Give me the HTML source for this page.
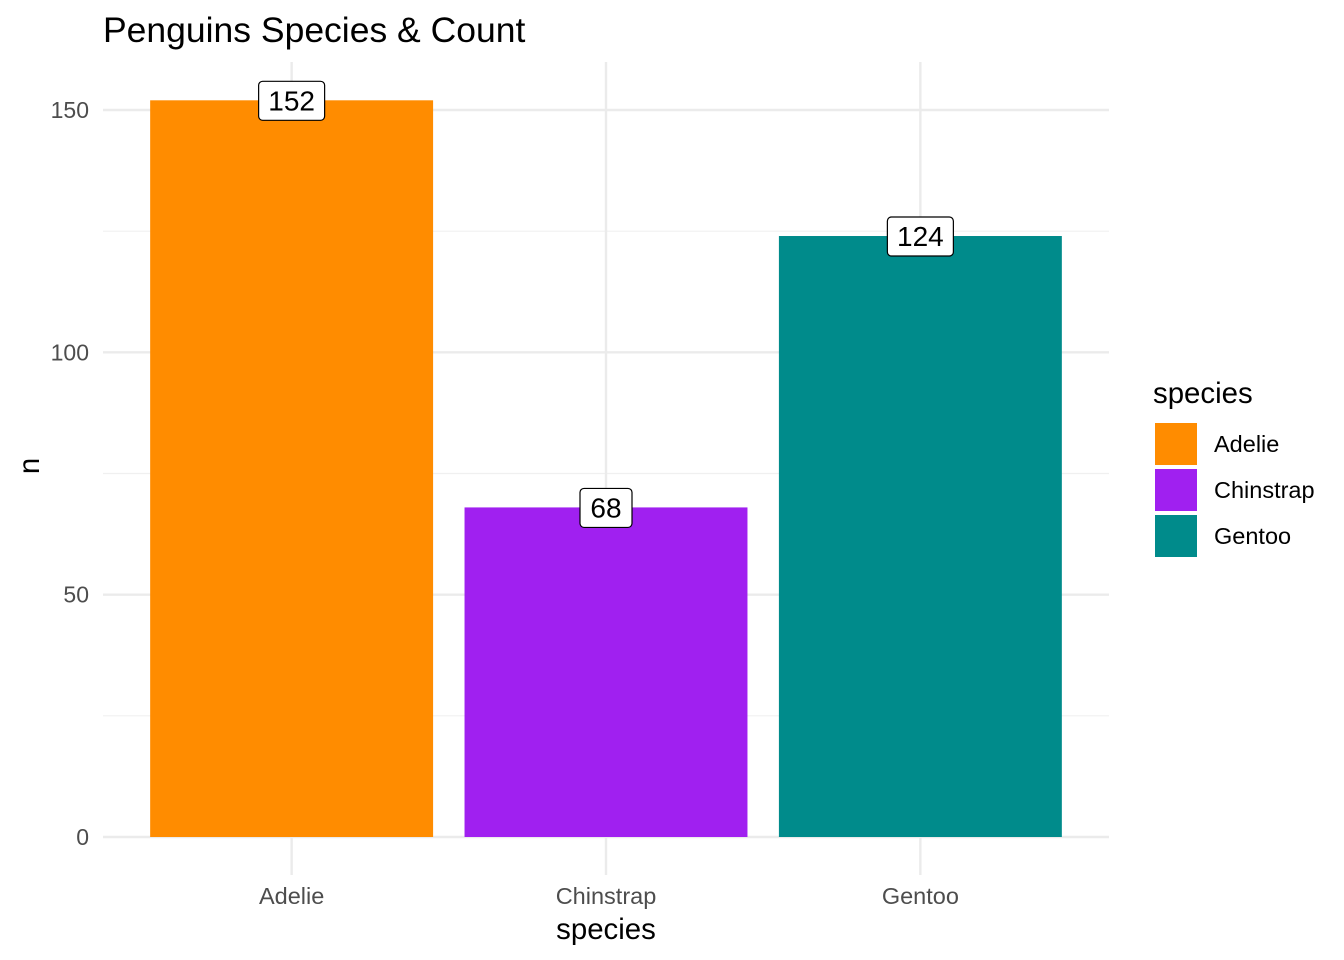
<!DOCTYPE html>
<html><head><meta charset="utf-8"><style>
body{margin:0;background:#fff}
svg{display:block;font-family:"Liberation Sans",sans-serif}
</style></head><body>
<svg id="chart" width="1344" height="960">
<text x="103" y="42" font-size="35.5" fill="#000">Penguins Species &amp; Count</text>
<g id="grid"></g><g id="bars"></g><g id="labels"></g><g id="axes"></g>
<text x="606" y="939" font-size="29.4" text-anchor="middle" fill="#000">species</text>
<text transform="translate(39,466) rotate(-90)" font-size="29.4" text-anchor="middle" fill="#000">n</text>
<g id="legend">
<text x="1153" y="403" font-size="29.4" fill="#000">species</text>
</g>
</svg>
<script>
const categories = ["Adelie","Chinstrap","Gentoo"];
const counts = [152, 68, 124];
const colors = ["#FF8C00","#A020F0","#008B8B"];
const yTicks = [0, 50, 100, 150];
const yMinor = [25, 75, 125];
const NS="http://www.w3.org/2000/svg";
const px0=103, px1=1109, py0=62, py1=875;
const y0=837, yScale=727/150;
const y = v => y0 - v*yScale;
const step=(px1-px0)/(categories.length+0.2);
const x = i => px0 + step*(i+0.6);
const bw = step*0.9;
function mk(tag, attrs, parent){const e=document.createElementNS(NS,tag);for(const k in attrs)e.setAttribute(k,attrs[k]);document.getElementById(parent).appendChild(e);return e;}
yMinor.forEach(v=>{const l=mk('line',{x1:px0,x2:px1,y1:y(v),y2:y(v),stroke:'#f0f0f0','stroke-width':1.2},'grid');

});
yTicks.forEach(v=>{const l=mk('line',{x1:px0,x2:px1,y1:y(v),y2:y(v),stroke:'#ebebeb','stroke-width':2.4},'grid');


const t=mk('text',{x:89,y:y(v)+8,'font-size':23,'text-anchor':'end',fill:'#4d4d4d'},'axes');t.textContent=v;

});
categories.forEach((c,i)=>{const l=mk('line',{x1:x(i),x2:x(i),y1:py0,y2:py1,stroke:'#ebebeb','stroke-width':2.4},'grid');


const r=mk('rect',{x:x(i)-bw/2,y:y(counts[i]),width:bw,height:y0-y(counts[i]),fill:colors[i]},'bars');


const t=mk('text',{x:x(i),y:904,'font-size':23.5,'text-anchor':'middle',fill:'#4d4d4d'},'axes');t.textContent=c;


const w=String(counts[i]).length*14+24;
const b=mk('rect',{x:x(i)-w/2,y:y(counts[i])-19,width:w,height:39,rx:4,fill:'#fff',stroke:'#000','stroke-width':1.2},'labels');


const lt=mk('text',{x:x(i),y:y(counts[i])+10,'font-size':28,'text-anchor':'middle',fill:'#000'},'labels');lt.textContent=counts[i];


const k=mk('rect',{x:1155,y:423+i*46,width:42,height:42,fill:colors[i]},'legend');


const kt=mk('text',{x:1214,y:452+i*46,'font-size':23.5,fill:'#000'},'legend');kt.textContent=c;

});
</script>
</body></html>
